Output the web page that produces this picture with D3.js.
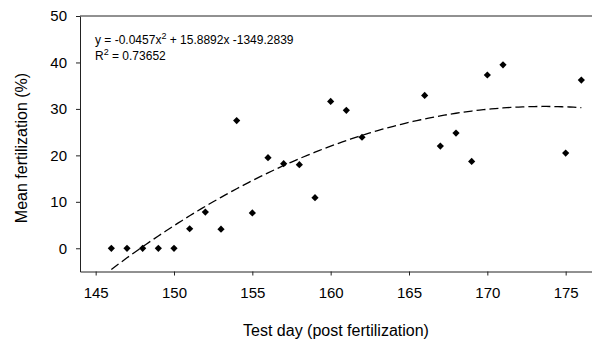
<!DOCTYPE html>
<html>
<head>
<meta charset="utf-8">
<script src="https://cdn.jsdelivr.net/npm/d3@7"></script>
<style>
  body { margin: 0; background: #fff; }
  svg { display: block; font-family: "Liberation Sans", Arial, sans-serif; }
</style>
</head>
<body>
<div id="chart"></div>
<script>
// DATA //

const testDays = [146, 147, 148, 149, 150, 151, 152, 153, 154, 155, 156, 157, 158,
  159, 160, 161, 162, 166, 167, 168, 169, 170, 171, 175, 176];
const meanFert = [0, 0, 0, 0, 0, 4.2, 7.8, 4.1, 27.5, 7.6, 19.5, 18.2, 18.0,
  10.9, 31.6, 29.7, 23.9, 32.9, 22.0, 24.8, 18.7, 37.3, 39.5, 20.5, 36.2];
const xTicks = [145, 150, 155, 160, 165, 170, 175];
const yTicks = [0, 10, 20, 30, 40, 50];
const eqText = 'y = -0.0457x';
const eqRest = ' + 15.8892x -1349.2839';
const r2Text = ' = 0.73652';

// FUNCTIONS //

// Least squares fit of a 2nd order polynomial, returns the fitted function
function quadFit( xs, ys ) {
  const n = xs.length;
  let s = [0, 0, 0, 0, 0], t = [0, 0, 0];
  for ( let i = 0; i < n; i++ ) {
    const x = xs[i] - 160, y = ys[i];
    for ( let k = 0; k < 5; k++ ) s[k] += Math.pow( x, k );
    for ( let k = 0; k < 3; k++ ) t[k] += y * Math.pow( x, k );
  }
  // normal equations, solved by Cramer's rule
  const M = [[s[4], s[3], s[2]], [s[3], s[2], s[1]], [s[2], s[1], s[0]]];
  const det = m => m[0][0]*(m[1][1]*m[2][2]-m[1][2]*m[2][1])
    - m[0][1]*(m[1][0]*m[2][2]-m[1][2]*m[2][0])
    + m[0][2]*(m[1][0]*m[2][1]-m[1][1]*m[2][0]);
  const D = det( M );
  const rhs = [t[2], t[1], t[0]];
  const sol = [0, 1, 2].map( j => det( M.map( ( row, i ) => row.map( ( v, k ) => k === j ? rhs[i] : v ) ) ) / D );
  return x => sol[0] * ( x - 160 ) * ( x - 160 ) + sol[1] * ( x - 160 ) + sol[2];
}

// MAIN //

const width = 592, height = 341;
const margin = { left: 80, top: 16 };

const x = d3.scaleLinear().domain([144, 177]).range([margin.left, 597]);
const y = d3.scaleLinear().domain([-5, 50]).range([271.5, margin.top]);

const svg = d3.select( '#chart' ).append( 'svg' )
  .attr( 'width', width )
  .attr( 'height', height );

svg.append( 'clipPath' ).attr( 'id', 'plotclip' )
  .append( 'rect' )
  .attr( 'x', x(144) ).attr( 'y', y(50) )
  .attr( 'width', x(177) - x(144) ).attr( 'height', y(-5) - y(50) );

// Fitted curve
const fit = quadFit( testDays, meanFert );
const curveDays = d3.range( 146, 176.001, 0.25 );
svg.append( 'path' )
  .datum( curveDays )
  .attr( 'clip-path', 'url(#plotclip)' )
  .attr( 'fill', 'none' )
  .attr( 'stroke', '#000' )
  .attr( 'stroke-width', 1.3 )
  .attr( 'stroke-dasharray', '9,4' )
  .attr( 'd', d3.line().x( d => x(d) ).y( d => y( fit(d) ) ) );

// Points
svg.append( 'g' ).selectAll( 'path' )
  .data( testDays )
  .enter().append( 'path' )
  .attr( 'd', d3.symbol().type( d3.symbolSquare ).size( 26 ) )
  .attr( 'transform', ( d, i ) => 'translate(' + x(d) + ',' + y( meanFert[i] ) + ') rotate(45)' )
  .attr( 'fill', '#000' );

// Axes
const xAxis = svg.append( 'g' )
  .attr( 'transform', 'translate(0,' + y(-5) + ')' )
  .call( d3.axisBottom( x ).tickValues( xTicks ).tickSize( 4 ).tickPadding( 12 ).tickSizeOuter( 0 ) );
const yAxis = svg.append( 'g' )
  .attr( 'transform', 'translate(' + x(144) + ',0)' )
  .call( d3.axisLeft( y ).tickValues( yTicks ).tickSize( 4 ).tickPadding( 9 ).tickSizeOuter( 0 ) );

[xAxis, yAxis].forEach( g => {
  g.selectAll( 'path, line' ).attr( 'stroke', '#222' );
  g.selectAll( 'text' ).attr( 'font-size', 15 ).attr( 'fill', '#000' )
    .attr( 'font-family', '"Liberation Sans", Arial, sans-serif' );
});

// top frame line
svg.append( 'line' )
  .attr( 'x1', x(144) ).attr( 'x2', width )
  .attr( 'y1', y(50) ).attr( 'y2', y(50) )
  .attr( 'stroke', '#222' );

// Axis titles
svg.append( 'text' )
  .attr( 'x', 336 ).attr( 'y', 336 )
  .attr( 'text-anchor', 'middle' )
  .attr( 'font-size', 16 )
  .text( 'Test day (post fertilization)' );

svg.append( 'text' )
  .attr( 'transform', 'translate(27,' + 148 + ') rotate(-90)' )
  .attr( 'text-anchor', 'middle' )
  .attr( 'font-size', 16 )
  .text( 'Mean fertilization (%)' );

// Regression annotation
const eq = svg.append( 'text' ).attr( 'x', 95 ).attr( 'y', 44 ).attr( 'font-size', 12 );
eq.append( 'tspan' ).text( eqText );
eq.append( 'tspan' ).attr( 'dy', -5 ).attr( 'font-size', 9 ).text( '2' );
eq.append( 'tspan' ).attr( 'dy', 5 ).text( eqRest );

const r2 = svg.append( 'text' ).attr( 'x', 95 ).attr( 'y', 60 ).attr( 'font-size', 12 );
r2.append( 'tspan' ).text( 'R' );
r2.append( 'tspan' ).attr( 'dy', -5 ).attr( 'font-size', 9 ).text( '2' );
r2.append( 'tspan' ).attr( 'dy', 5 ).text( r2Text );
</script>
</body>
</html>
